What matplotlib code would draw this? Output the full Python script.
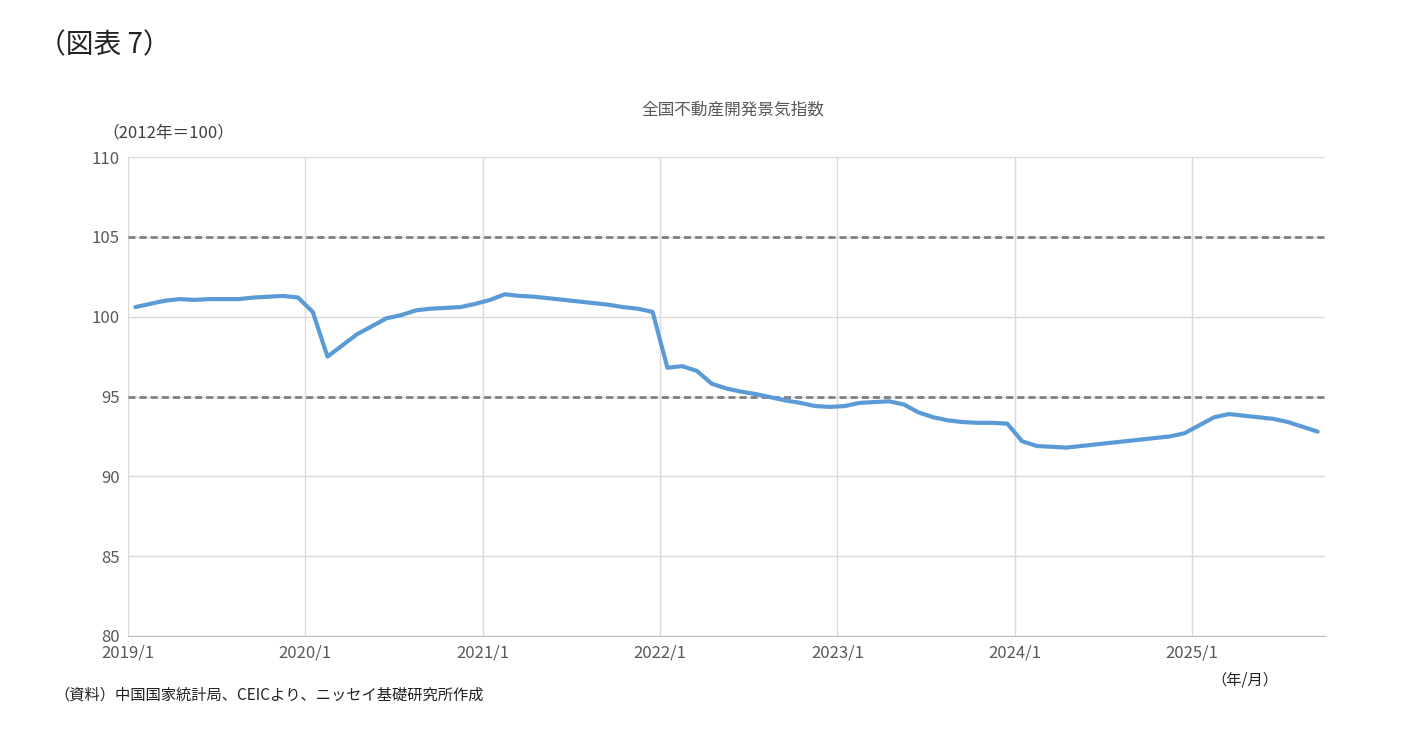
import matplotlib
matplotlib.use("Agg")
import matplotlib.pyplot as plt
import numpy as np

plt.rcParams['font.family'] = ['Noto Sans CJK JP', 'DejaVu Sans']

values = [
    100.6,100.8,101.0,101.1,101.05,101.1,101.1,101.1,101.2,101.25,101.3,101.2,
    100.3,97.5,98.2,98.9,99.4,99.9,100.1,100.4,100.5,100.55,100.6,100.8,
    101.05,101.4,101.3,101.25,101.15,101.05,100.95,100.85,100.75,100.6,100.5,100.3,
    96.8,96.9,96.6,95.8,95.5,95.3,95.15,94.95,94.75,94.6,94.4,94.35,
    94.4,94.6,94.65,94.7,94.5,94.0,93.7,93.5,93.4,93.35,93.35,93.3,
    92.2,91.9,91.85,91.8,91.9,92.0,92.1,92.2,92.3,92.4,92.5,92.7,
    93.2,93.7,93.9,93.8,93.7,93.6,93.4,93.1,92.8,
]
year_labels = ["2019/1","2020/1","2021/1","2022/1","2023/1","2024/1","2025/1"]
ref_levels = [105, 95]

fig = plt.figure(figsize=(14.09, 7.40), dpi=100)
ax = fig.add_axes([128/1409, 1-636/740, (1325-128)/1409, (636-157)/740])
x = np.arange(len(values)) + 0.5
ax.plot(x, values, color='#5B9BD5', lw=3, solid_capstyle='round', zorder=3)
for r in ref_levels:
    ax.axhline(r, color='#808080', ls=(0, (2.5, 1.5)), lw=2, zorder=2)
ax.set_xlim(0, 81)
ax.set_ylim(80, 110)
ax.set_yticks(range(80, 111, 5))
ax.set_xticks(np.arange(0, 84, 12)[:7])
ax.set_xticklabels(year_labels)
ax.grid(True, color='#D9D9D9', lw=1, zorder=0)
for s in ['top', 'right', 'left']:
    ax.spines[s].set_visible(False)
ax.spines['bottom'].set_color('#BFBFBF')
ax.tick_params(length=0, labelsize=12, colors='#595959', pad=6)

fig.text(38/1409, 1-45/740, '（図表 7）', fontsize=20, va='center', ha='left', color='#222222')
fig.text(733/1409, 1-110/740, '全国不動産開発景気指数', fontsize=12, ha='center', va='center', color='#595959')
fig.text(102/1409, 1-133/740, '（2012年＝100）', fontsize=12, ha='left', va='center', color='#404040')
fig.text(1245/1409, 1-680/740, '（年/月）', fontsize=11, ha='center', va='center', color='#222222')
fig.text(54/1409, 1-695/740, '（資料）中国国家統計局、CEICより、ニッセイ基礎研究所作成', fontsize=11, ha='left', va='center', color='#222222')

fig.savefig('out.png', dpi=100)
